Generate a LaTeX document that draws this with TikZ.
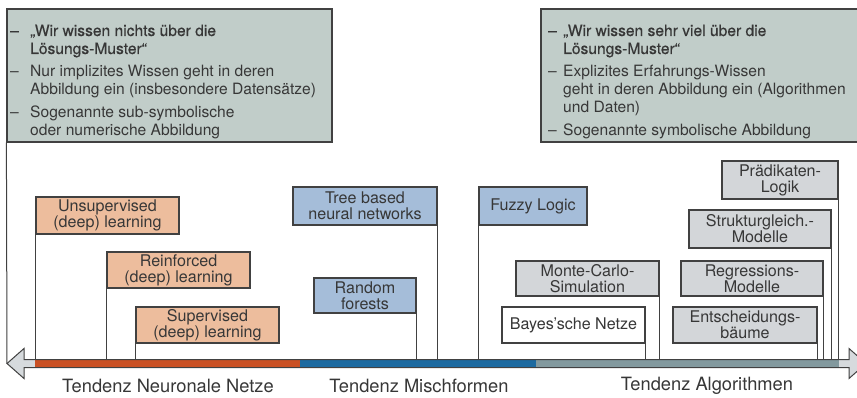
\documentclass[tikz,border=0pt]{standalone}
\usepackage{fontspec}
\setmainfont{TeX Gyre Heros}
\newfontfamily\medfont[FakeBold=0.5]{TeX Gyre Heros}
\definecolor{topfill}{RGB}{193,205,201}
\definecolor{orfill}{RGB}{237,189,157}
\definecolor{blfill}{RGB}{165,189,217}
\definecolor{grfill}{RGB}{211,214,217}
\definecolor{edge}{RGB}{65,65,65}
\definecolor{txt}{RGB}{55,55,55}
\definecolor{shred}{RGB}{201,80,36}
\definecolor{shblue}{RGB}{28,106,160}
\definecolor{shgrey}{RGB}{130,153,158}
\definecolor{headfill}{RGB}{214,218,221}
\tikzset{
  box/.style={draw=edge, line width=1.2pt, inner sep=0pt, align=center, text=txt,
    font=\fontsize{16.1}{16.2}\selectfont},
  obox/.style={box, fill=orfill},
  bbox/.style={box, fill=blfill},
  gbox/.style={box, fill=grfill},
  wbox/.style={box, fill=white},
  topbox/.style={draw=edge, line width=1.2pt, fill=topfill, inner sep=0pt},
  toptext/.style={inner sep=0pt, text=txt, anchor=base west,
    font=\fontsize{15.6}{18}\selectfont},
  conn/.style={draw=edge, line width=1pt},
  lab/.style={inner sep=0pt, text=txt, font=\fontsize{18.3}{20}\selectfont},
}
\begin{document}
\begin{tikzpicture}[x=1pt,y=-1pt]
\clip (0,0) rectangle (857,398);
\fill[white] (0,0) rectangle (857,398);

% top boxes
\node[topbox, minimum width=325pt, minimum height=133pt] (topL) at (169.5,75.5) {};
\node[topbox, minimum width=340pt, minimum height=133pt] (topR) at (711,75.5) {};
\node[toptext] (tL) at (10,36) {\begin{tabular}[t]{@{}p{20pt}@{}l@{}}
\medfont – & \medfont „Wir wissen nichts über die\\
 & \medfont Lösungs-Muster“\\[5pt]
– & Nur implizites Wissen geht in deren\\
 & Abbildung ein (insbesondere Datensätze)\\[5pt]
– & Sogenannte sub-symbolische\\
 & oder numerische Abbildung
\end{tabular}};
\node[toptext] (tR) at (548,36) {\begin{tabular}[t]{@{}p{15pt}@{}l@{}}
\medfont – & \medfont „Wir wissen sehr viel über die\\
 & \medfont Lösungs-Muster“\\[5pt]
– & Explizites Erfahrungs-Wissen\\
 & geht in deren Abbildung ein (Algorithmen\\
 & und Daten)\\[5pt]
– & Sogenannte symbolische Abbildung
\end{tabular}};

% arrow
\coordinate (shaft) at (0,359.5);
\coordinate (ltip) at (7,363.5);
\fill[headfill] (ltip) -- (24,348.5) -- (24,359.5) -- (849,359.5) -- (849,348.5) -- (866,363.5)
  -- (849,378.5) -- (849,367.5) -- (24,367.5) -- (24,378.5) -- cycle;
\fill[shred] (35,359.5) rectangle (300,367.5);
\fill[shblue] (300,359.5) rectangle (536,367.5);
\fill[shgrey] (536,359.5) rectangle (839,367.5);
\draw[draw=edge, line width=1pt, line join=miter] (ltip) -- (24,348.5) -- (24,359.5) -- (849,359.5) -- (849,348.5) -- (866,363.5)
  -- (849,378.5) -- (849,367.5) -- (24,367.5) -- (24,378.5) -- cycle;

% boxes
\node[obox, minimum width=143pt, minimum height=37pt] (unsup) at (107.5,215.5) {Unsupervised\\(deep) learning};
\node[obox, minimum width=143pt, minimum height=36pt] (reinf) at (178.5,270) {Reinforced\\(deep) learning};
\node[obox, minimum width=143pt, minimum height=36pt] (superv) at (207.5,325) {Supervised\\(deep) learning};
\node[bbox, minimum width=144pt, minimum height=38pt] (tree) at (365,206) {Tree based\\neural networks};
\node[bbox, minimum width=102pt, minimum height=35pt] (random) at (365,295.5) {Random\\forests};
\node[bbox, minimum width=108pt, minimum height=38pt] (fuzzy) at (533,206) {Fuzzy Logic};
\node[gbox, minimum width=143pt, minimum height=35pt] (monte) at (587.5,278.5) {Monte-Carlo-\\Simulation};
\node[wbox, minimum width=143pt, minimum height=36pt] (bayes) at (573.5,325) {Bayes’sche Netze};
\node[gbox, minimum width=144pt, minimum height=36pt] (entsch) at (745,325) {Entscheidungs-\\bäume};
\node[gbox, minimum width=142pt, minimum height=35pt] (regr) at (752,278.5) {Regressions-\\Modelle};
\node[gbox, minimum width=142pt, minimum height=38pt] (strukt) at (760,229) {Strukturgleich.-\\Modelle};
\node[gbox, minimum width=116pt, minimum height=38pt] (praed) at (780,180) {Prädikaten-\\Logik};

% connectors
\draw[conn] (topL.south west) -- (ltip);
\draw[conn] (unsup.south west) -- (unsup.south west |- shaft);
\draw[conn] (reinf.south west) -- (reinf.south west |- shaft);
\draw[conn] (superv.south west) -- (superv.south west |- shaft);
\draw[conn] (tree.south east) -- (tree.south east |- shaft);
\draw[conn] (random.south east) -- (random.south east |- shaft);
\draw[conn] (fuzzy.south west) -- (fuzzy.south west |- shaft);
\draw[conn] (monte.south east) -- (monte.south east |- shaft);
\draw[conn] (bayes.south east) -- (bayes.south east |- shaft);
\draw[conn] (entsch.south east) -- (entsch.south east |- shaft);
\draw[conn] (regr.south east) -- (regr.south east |- shaft);
\draw[conn] (strukt.south east) -- (strukt.south east |- shaft);
\draw[conn] (praed.south east) -- (praed.south east |- shaft);

% labels
\node[lab] (labN) at (168,386) {Tendenz Neuronale Netze};
\node[lab] (labM) at (419,386) {Tendenz Mischformen};
\node[lab] (labA) at (707,386) {Tendenz Algorithmen};
\end{tikzpicture}
\end{document}
